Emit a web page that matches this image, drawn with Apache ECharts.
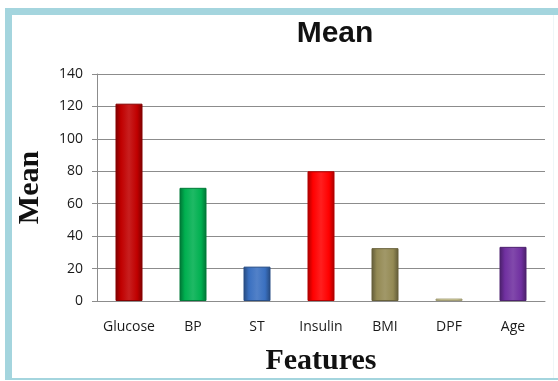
<!DOCTYPE html>
<html>
<head>
<meta charset="utf-8">
<script src="https://cdn.jsdelivr.net/npm/echarts@6/dist/echarts.min.js"></script>
<style>
  html, body { margin: 0; padding: 0; background: #fff; }
  #chart { width: 558px; height: 381px; }
</style>
</head>
<body>
<div id="chart"></div>
<script>
// Mean value of each feature
const features = ['Glucose', 'BP', 'ST', 'Insulin', 'BMI', 'DPF', 'Age'];
const means = [121.7, 69.8, 21.2, 80, 32.6, 1.5, 33.4];
const barColors = ['#c00000', '#00b050', '#3a70c0', '#ff0000', '#948a54', '#e6dfa6', '#7030a0'];
const yTicks = { min: 0, max: 140, interval: 20 };

function shade(hex, f) {
  const n = parseInt(hex.slice(1), 16);
  let r = (n >> 16) & 255, g = (n >> 8) & 255, b = n & 255;
  const mix = (c) => f < 0 ? Math.round(c * (1 + f)) : Math.round(c + (255 - c) * f);
  r = mix(r); g = mix(g); b = mix(b);
  return '#' + ((1 << 24) + (r << 16) + (g << 8) + b).toString(16).slice(1);
}

function barGradient(c) {
  return new echarts.graphic.LinearGradient(0, 0, 1, 0, [
    { offset: 0, color: shade(c, -0.35) },
    { offset: 0.2, color: c },
    { offset: 0.5, color: shade(c, 0.12) },
    { offset: 0.8, color: c },
    { offset: 1, color: shade(c, -0.35) }
  ]);
}

const chart = echarts.init(document.getElementById('chart'));
const frame = '#a4d5de';

chart.setOption({
  animation: false,
  backgroundColor: '#fff',
  title: {
    text: 'Mean',
    left: 330,
    top: 14,
    textAlign: 'center',
    textStyle: { fontFamily: 'Liberation Sans', fontWeight: 'bold', fontSize: 30, color: '#111' }
  },
  grid: { left: 97, right: 13, top: 74, bottom: 78, containLabel: false },
  xAxis: {
    type: 'category',
    data: features,
    name: 'Features',
    nameLocation: 'middle',
    nameGap: 45,
    nameTextStyle: { fontFamily: 'Liberation Serif', fontWeight: 'bold', fontSize: 30, color: '#111' },
    axisLine: { lineStyle: { color: '#8c8c8c', width: 1 } },
    axisTick: { show: false },
    axisLabel: { interval: 0, margin: 19, fontFamily: 'Open Sans', fontSize: 14, color: '#1a1a1a' }
  },
  yAxis: {
    type: 'value',
    min: yTicks.min,
    max: yTicks.max,
    interval: yTicks.interval,
    name: 'Mean',
    nameLocation: 'middle',
    nameGap: 52,
    nameTextStyle: { fontFamily: 'Liberation Serif', fontWeight: 'bold', fontSize: 30, color: '#111' },
    axisLine: { show: true, lineStyle: { color: '#8c8c8c', width: 1 } },
    axisTick: { show: true, length: 5, lineStyle: { color: '#8c8c8c' } },
    axisLabel: { margin: 14, fontFamily: 'Open Sans', fontSize: 14, color: '#1a1a1a' },
    splitLine: { lineStyle: { color: '#8c8c8c', width: 1 } }
  },
  series: [{
    type: 'bar',
    barWidth: 27,
    data: means.map((v, i) => ({
      value: v,
      itemStyle: {
        color: barGradient(barColors[i]),
        borderColor: shade(barColors[i], -0.3),
        borderWidth: 1
      }
    }))
  }],
  graphic: [
    { type: 'rect', shape: { x: 5, y: 8, width: 553, height: 7 }, style: { fill: frame }, z: 100 },
    { type: 'rect', shape: { x: 5, y: 8, width: 7, height: 372 }, style: { fill: frame }, z: 100 },
    { type: 'rect', shape: { x: 5, y: 378, width: 553, height: 2 }, style: { fill: frame }, z: 100 },
    { type: 'rect', shape: { x: 553, y: 15, width: 1, height: 363 }, style: { fill: '#eef6f8' }, z: 100 }
  ]
});
</script>
</body>
</html>
